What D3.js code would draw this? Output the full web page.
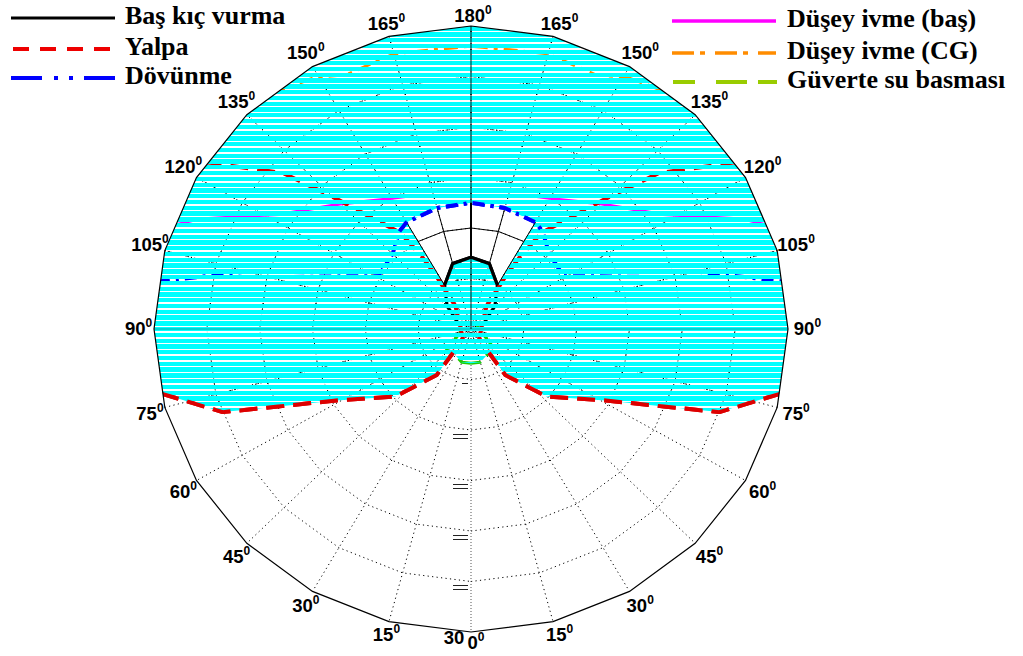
<!DOCTYPE html>
<html><head><meta charset="utf-8">
<script src="https://cdn.jsdelivr.net/npm/d3@7"></script>
<style>body{margin:0;background:#fff}svg{display:block}</style>
</head><body>
<svg id="chart" width="1023" height="656"></svg>
<script>
// Polar axes: heading (deg, 0 = following seas at the bottom) and ship speed (kn)
const headingTicks = [0, 15, 30, 45, 60, 75, 90, 105, 120, 135, 150, 165, 180];
const speedRings = [5, 10, 15, 20, 25, 30];
const speedMax = 30;
const speedLabel = "30";

// Limit curves, heading (deg) vs limiting speed (kn); drawn mirrored on both sides
const pitchHeading = [120, 135, 150, 165, 180];            // Baş kıç vurma
const pitchSpeed   = [1.5, 3.2, 5.0, 6.7, 7.1];

const rollLowHeading  = [77.7, 70.7, 67.2, 61.0, 47.0, 35.5, 36.0];   // Yalpa, lower branch
const rollLowSpeed    = [30, 24.9, 19.8, 14.6, 9.8, 5.6, 2.9];
const rollHighHeading = [40, 147, 148, 147, 145, 135, 131, 123.4];     // Yalpa, upper branch
const rollHighSpeed   = [1.2, 2.7, 6.4, 8.6, 11.6, 18.5, 23.5, 30];

const slamHeading = [99, 105, 116, 123, 135, 145, 150, 165, 180];     // Dövünme
const slamSpeed   = [30, 22, 12.7, 10.2, 10.5, 11.8, 12.2, 12.4, 12.5];

const accBowHeading = [110, 113, 122, 135, 147, 156, 167, 180];       // Düşey ivme (baş)
const accBowSpeed   = [30, 27.9, 21.4, 17.5, 15.3, 14.4, 13.5, 13.2];

const accCgHeading = [141, 149, 155, 165, 172, 180];                  // Düşey ivme (CG)
const accCgSpeed   = [30, 29, 27.8, 28.2, 27.9, 28];

const wetHeading = [0, 15, 36, 47, 70, 90, 120, 150, 180];            // Güverte su basması
const wetSpeed   = [3.4, 3.4, 2.9, 3.4, 1.1, 0.9, 0.7, 0.6, 0.5];

// heading band of the safe window in head seas
const windowFrom = 150;

const legendLeft  = ["Baş kıç vurma", "Yalpa", "Dövünme"];
const legendRight = ["Düşey ivme (baş)", "Düşey ivme (CG)", "Güverte su basması"];

// ---------------------------------------------------------------
const svg = d3.select("#chart");
const defs = svg.append("defs");
const cx = 471, cy = 329;
const rX = d3.scaleLinear().domain([0, speedMax]).range([0, 317]);
const rY = d3.scaleLinear().domain([0, speedMax]).range([0, 303]);
const ang = d3.scaleLinear().domain([0, 180]).range([0, Math.PI]);
const pt = (h, s, side) => [cx + side * rX(s) * Math.sin(ang(h)), cy + rY(s) * Math.cos(ang(h))];
const line = d3.line();
const closed = p => line(p) + "Z";

const ringPts = s => headingTicks.map(h => pt(h, s, 1))
  .concat(headingTicks.slice(1, -1).reverse().map(h => pt(h, s, -1)));
const curve = (H, S, side) => H.map((h, i) => pt(h, S[i], side));
function mirrored(H, S) {
  const left = curve(H, S, -1);
  const right = curve(H, S, 1).reverse();
  if (H[H.length - 1] === 180) right.shift();
  return left.concat(right);
}
const pick = (H, S, from) => {
  const idx = H.map((h, i) => i).filter(i => H[i] >= from);
  return [idx.map(i => H[i]), idx.map(i => S[i])];
};

// clip regions
defs.append("clipPath").attr("id", "outerClip").append("path").attr("d", closed(ringPts(speedMax)));

const [pH, pS] = pick(pitchHeading, pitchSpeed, windowFrom);
const [sH, sS] = pick(slamHeading, slamSpeed, windowFrom);
const holePts = mirrored(sH, sS).concat(mirrored(pH, pS).reverse());
defs.append("clipPath").attr("id", "holeClip").append("path").attr("d", closed(holePts));

const far = speedMax * 1.15;
const hatchPts = []
  .concat(curve(rollLowHeading, rollLowSpeed, -1).reverse())
  .concat([pt(rollLowHeading[0], far, -1)])
  .concat(headingTicks.filter(h => h > rollLowHeading[0]).map(h => pt(h, far, -1)))
  .concat(headingTicks.filter(h => h > rollLowHeading[0] && h < 180).reverse().map(h => pt(h, far, 1)))
  .concat([pt(rollLowHeading[0], far, 1)])
  .concat(curve(rollLowHeading, rollLowSpeed, 1))
  .concat(curve(wetHeading.slice(0, 2), wetSpeed.slice(0, 2), 1).reverse())
  .concat([pt(wetHeading[1], wetSpeed[1], -1)]);
defs.append("clipPath").attr("id", "hatchClip").append("path")
  .attr("clip-rule", "evenodd")
  .attr("d", closed(hatchPts) + " " + closed(holePts));

// polar grid: dotted rings and spokes
function drawGrid(g, dash, dash0) {
  speedRings.slice(0, -1).forEach(s => {
    g.append("path").attr("d", closed(ringPts(s))).attr("fill", "none")
      .attr("stroke", "#000").attr("stroke-width", 1).attr("stroke-dasharray", dash);
  });
  headingTicks.forEach(h => {
    [1, -1].forEach(side => {
      if ((h === 0 || h === 180) && side === -1) return;
      g.append("path").attr("d", line([pt(h, 0, 1), pt(h, speedMax, side)]))
        .attr("stroke", h === 0 ? "#555" : "#000").attr("stroke-width", 1)
        .attr("stroke-dasharray", h === 0 ? dash0 : dash);
    });
  });
}
drawGrid(svg.append("g"), "1.2,3.3", "1,2");
// beneath the hatching the grid shows through the gaps as denser dots
drawGrid(svg.append("g").attr("clip-path", "url(#hatchClip)"), "1,2", "1,2");

// ring value marks along the 0° spoke
speedRings.slice(0, -1).forEach(s => {
  const y = cy + rY(s);
  [4, 8].forEach((d, j) => {
    if (s === 5 && j === 1) return;
    svg.append("line").attr("x1", s === 5 ? 462 : 453).attr("x2", 468)
      .attr("y1", y + d).attr("y2", y + d).attr("stroke", "#222").attr("stroke-width", 1)
      .attr("shape-rendering", "crispEdges");
  });
});

// limit curves (underneath the hatching)
const styles = {
  pitch:  {color: "#000000", width: 3.2, dash: null},
  roll:   {color: "#dd0000", width: 4,   dash: "18,9"},
  slam:   {color: "#0000ff", width: 4,   dash: "12,6,3,6"},
  accBow: {color: "#ff00ff", width: 3,   dash: null},
  accCg:  {color: "#ff8800", width: 3,   dash: "14,6,4,6"},
  wet:    {color: "#22cc00", width: 3,   dash: "14,8"}
};
const drawPath = (g, pts, st) => g.append("path").attr("d", line(pts)).attr("fill", "none")
  .attr("stroke", st.color).attr("stroke-width", st.width)
  .attr("stroke-dasharray", st.dash).attr("stroke-linejoin", "round");

const under = svg.append("g").attr("clip-path", "url(#outerClip)");
drawPath(under, mirrored(wetHeading, wetSpeed), styles.wet);
drawPath(under, mirrored(accCgHeading, accCgSpeed), styles.accCg);
drawPath(under, mirrored(accBowHeading, accBowSpeed), styles.accBow);
drawPath(under, mirrored(slamHeading, slamSpeed), styles.slam);
drawPath(under, mirrored(pitchHeading, pitchSpeed), styles.pitch);
[1, -1].forEach(side => {
  drawPath(under, curve(rollLowHeading, rollLowSpeed, side)
    .concat(curve(rollHighHeading, rollHighSpeed, side)), styles.roll);
});

// unsafe region: cyan horizontal hatching
const hatch = svg.append("g").attr("clip-path", "url(#outerClip)")
  .append("g").attr("clip-path", "url(#hatchClip)");
hatch.selectAll("line").data(d3.range(34.4 - 5.78 * 3, 430, 5.78)).join("line")
  .attr("x1", 140).attr("x2", 810).attr("y1", d => d).attr("y2", d => d)
  .attr("stroke", "#00ffff").attr("stroke-width", 4.3).attr("shape-rendering", "crispEdges");

// solid grid inside the safe window
const win = svg.append("g").attr("clip-path", "url(#holeClip)").attr("fill", "none").attr("stroke", "#000");
win.append("path").attr("d", closed(ringPts(10))).attr("stroke-width", 1);
[165].forEach(h => [1, -1].forEach(side =>
  win.append("path").attr("d", line([pt(h, 0, 1), pt(h, speedMax, side)])).attr("stroke-width", 1)));
win.append("path").attr("d", line([pt(180, 0, 1), pt(180, speedMax, 1)])).attr("stroke-width", 2);

// 90° and 180° spokes over the hatching
svg.append("path").attr("d", line([pt(180, 0, 1), pt(180, speedMax, 1)]))
  .attr("stroke", "#000").attr("stroke-opacity", 0.55).attr("stroke-width", 1.6);
[1, -1].forEach(side => svg.append("path").attr("d", line([pt(90, 0, 1), pt(90, speedMax, side)]))
  .attr("stroke", "#000").attr("stroke-opacity", 0.35).attr("stroke-width", 1));

// window side edges along the 150° spokes
[1, -1].forEach(side => svg.append("path")
  .attr("d", line([pt(windowFrom, pS[0], side), pt(windowFrom, sS[0], side)]))
  .attr("stroke", "#000").attr("stroke-width", 1));

// boundary curves drawn over the hatching
const overlay = svg.append("g").attr("clip-path", "url(#outerClip)");
[1, -1].forEach(side => drawPath(overlay, curve(rollLowHeading, rollLowSpeed, side), styles.roll));
const [tH, tS] = pick(slamHeading, slamSpeed, 145);
drawPath(overlay, mirrored(tH, tS), styles.slam);
drawPath(overlay, mirrored(pH, pS), styles.pitch);

// outer boundary
svg.append("path").attr("d", closed(ringPts(speedMax))).attr("fill", "none")
  .attr("stroke", "#000").attr("stroke-width", 1.2);

// heading labels
const lab = svg.append("g").attr("font-family", "'Liberation Sans', Arial, sans-serif")
  .attr("font-weight", "bold").attr("font-size", 18.5).attr("text-anchor", "middle");
headingTicks.forEach(h => {
  [1, -1].forEach(side => {
    if ((h === 0 || h === 180) && side === -1) return;
    const a = ang(h);
    const x = cx + side * rX(speedMax) * 1.055 * Math.sin(a) + (h === 0 ? 5 : 2);
    const y = cy + rY(speedMax) * (1.035 + 0.04 * Math.sin(a)) * Math.cos(a);
    const t = lab.append("text").attr("x", x).attr("y", y).attr("dy", "0.35em");
    t.append("tspan").text(h);
    t.append("tspan").attr("font-size", 12).attr("dy", -8).text("0");
  });
});
const [lx, ly] = pt(3, speedMax * 1.02, -1);
lab.append("text").attr("x", lx).attr("y", ly).attr("dy", "0.35em").text(speedLabel);

// legend
const legendStyleLeft = [
  {color: "#000000", width: 3.2, dash: null, x1: 11, x2: 115, y: 18},
  {color: "#ee0000", width: 4, dash: "16,11", x1: 13, x2: 110, y: 49},
  {color: "#0000ff", width: 4, dash: "31,12,4,11,4,11", x1: 11, x2: 115, y: 78}
];
const legendStyleRight = [
  {color: "#ff00ff", width: 3.5, dash: null, x1: 672, x2: 776, y: 21},
  {color: "#ff8c00", width: 3.5, dash: "22,6,5,10", x1: 672, x2: 776, y: 53},
  {color: "#99cc00", width: 4, dash: "22,21,31,11,20", x1: 673, x2: 777, y: 82}
];
const leg = svg.append("g").attr("font-family", "'Liberation Serif', 'Times New Roman', serif")
  .attr("font-weight", "bold").attr("font-size", 26);
function legendItems(names, st, tx) {
  names.forEach((n, i) => {
    const s = st[i];
    leg.append("line").attr("x1", s.x1).attr("x2", s.x2).attr("y1", s.y).attr("y2", s.y)
      .attr("stroke", s.color).attr("stroke-width", s.width).attr("stroke-dasharray", s.dash);
    leg.append("text").attr("x", tx).attr("y", s.y + 5.5).text(n);
  });
}
legendItems(legendLeft, legendStyleLeft, 125);
legendItems(legendRight, legendStyleRight, 787);
</script>
</body></html>
